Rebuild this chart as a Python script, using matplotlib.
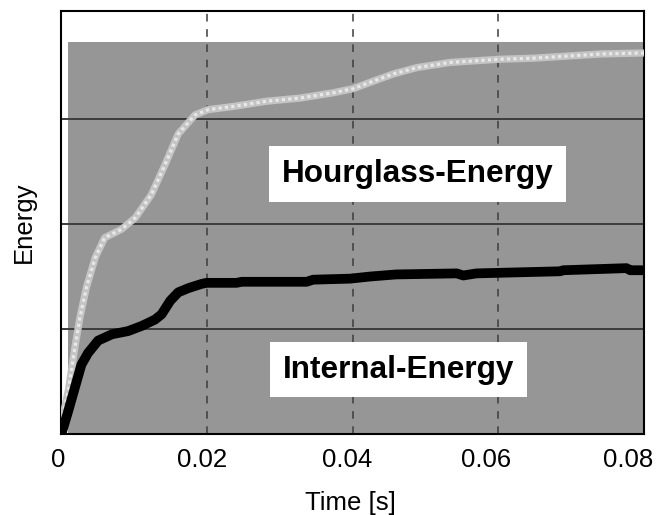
import matplotlib
matplotlib.use('Agg')
import matplotlib.pyplot as plt

plt.rcParams['font.family'] = ['Liberation Sans', 'DejaVu Sans']

# Hourglass energy
t_hg = [0.0, 0.0001, 0.001, 0.0019, 0.0026, 0.0035, 0.0047, 0.006, 0.0083, 0.0102,
        0.0124, 0.0143, 0.0161, 0.0184, 0.0202, 0.0236, 0.0282, 0.0328, 0.0373,
        0.0401, 0.0428, 0.0456, 0.0488, 0.0534, 0.0579, 0.0602, 0.0648, 0.0694,
        0.074, 0.08]
e_hg = [0.0, 0.12, 0.41, 0.82, 1.11, 1.40, 1.68, 1.87, 1.95, 2.06,
        2.28, 2.57, 2.86, 3.04, 3.09, 3.12, 3.17, 3.20, 3.25,
        3.29, 3.36, 3.43, 3.49, 3.54, 3.56, 3.57, 3.58, 3.60,
        3.62, 3.63]

# Internal energy
t_ie = [0.0, 0.0001, 0.001, 0.0019, 0.0028, 0.0037, 0.0051, 0.007, 0.0092, 0.0111,
        0.0129, 0.0138, 0.015, 0.0161, 0.0175, 0.0193, 0.02, 0.0241, 0.0248,
        0.0337, 0.0346, 0.0397, 0.0424, 0.046, 0.0543, 0.0552, 0.057, 0.0685,
        0.0689, 0.0776, 0.0781, 0.08]
e_ie = [0.0, 0.01, 0.22, 0.44, 0.66, 0.77, 0.89, 0.95, 0.98, 1.03,
        1.09, 1.14, 1.27, 1.35, 1.39, 1.43, 1.44, 1.44, 1.45,
        1.45, 1.47, 1.48, 1.50, 1.52, 1.53, 1.51, 1.53, 1.55,
        1.56, 1.58, 1.56, 1.56]

x_ticks = [0, 0.02, 0.04, 0.06, 0.08]
x_labels = ['0', '0.02', '0.04', '0.06', '0.08']
label_shift_px = [-2.5, -5, -5, -12, -16]  # labels in the original sit a bit left

fig = plt.figure(figsize=(6.6, 5.15), dpi=100)
ax = fig.add_axes([0.0924, 0.1573, 0.8834, 0.8214])

# gray plot area
ax.fill_between([0.001, 0.0805], 0, 3.73, color='#969696', lw=0, zorder=0)

# grid
for yv in [1, 2, 3]:
    ax.axhline(yv, color='#3c3c3c', lw=1.4, zorder=1)
for xv in [0.02, 0.04, 0.06]:
    ax.axvline(xv, color='#3c3c3c', lw=1.1, ls=(0, (5, 5)), zorder=1)

# curves
ax.plot(t_hg, e_hg, color='#c4c4c4', lw=5.2, solid_capstyle='butt', zorder=3)
ax.plot(t_hg, e_hg, color='#e8e8e8', lw=2.3, ls=(0, (1, 1)), zorder=3)
ax.plot(t_ie, e_ie, color='black', lw=7, solid_capstyle='round', zorder=4)

box = dict(facecolor='white', edgecolor='none', boxstyle='square,pad=0.4')
ax.text(0.0489, 2.476, 'Hourglass-Energy', fontsize=22.7, fontweight='bold',
        ha='center', va='center', bbox=box, zorder=5)
ax.text(0.0463, 0.614, 'Internal-Energy', fontsize=22.7, fontweight='bold',
        ha='center', va='center', bbox=box, zorder=5)

ax.set_xlim(0, 0.08)
ax.set_ylim(0, 4.03)
ax.set_xticks(x_ticks)
ax.set_xticklabels([])
# tick labels, nudged left like in the original
for xt, lab, dx in zip(x_ticks, x_labels, label_shift_px):
    ax.annotate(lab, xy=(xt, 0), xycoords=('data', 'axes fraction'),
                xytext=(dx, -14), textcoords='offset pixels',
                ha='center', va='top', fontsize=18.5, annotation_clip=False)
ax.set_yticks([])
ax.tick_params(axis='x', length=0)
ax.set_xlabel('Time [s]', fontsize=18.5)
ax.xaxis.set_label_coords(0.497, -0.134)
ax.set_ylabel('Energy', fontsize=18.5, labelpad=18)
for s in ax.spines.values():
    s.set_linewidth(1.5)
    s.set_color('black')

fig.savefig('out.png', dpi=100)
